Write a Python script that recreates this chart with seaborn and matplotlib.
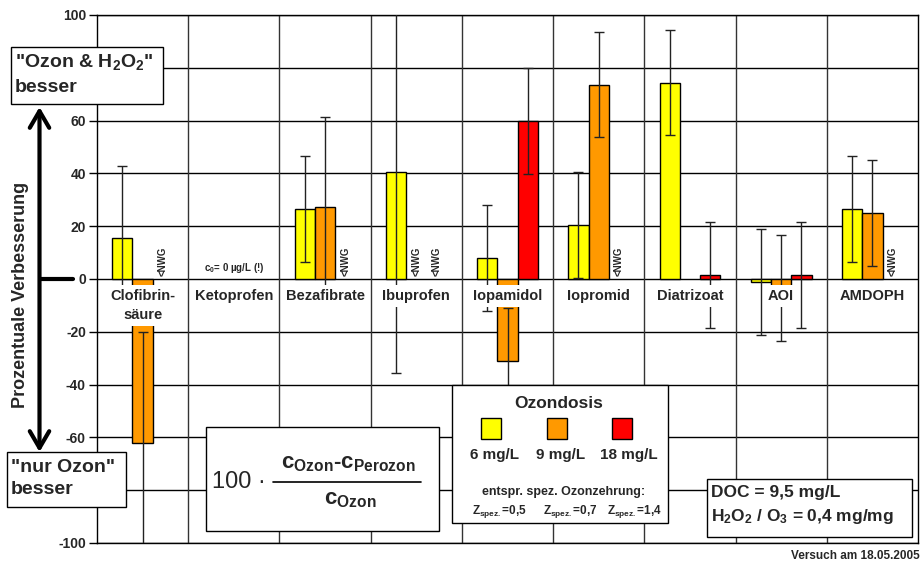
import numpy as np
import pandas as pd
import matplotlib
matplotlib.use("Agg")
import matplotlib.pyplot as plt
import seaborn as sns
from matplotlib.patches import Rectangle, FancyArrowPatch
from matplotlib.lines import Line2D

# ---------------- data ----------------
categories = ["Clofibrin-\nsäure", "Ketoprofen", "Bezafibrate", "Ibuprofen", "Iopamidol",
              "Iopromid", "Diatrizoat", "AOI", "AMDOPH"]
doses = ["6 mg/L", "9 mg/L", "18 mg/L"]
nan = np.nan
val_6 = [15.6, nan, 26.5, 40.4, 7.8, 20.4, 74.4, -1.1, 26.6]
err_6 = [27.2, nan, 20.1, 76.0, 20.1, 20.0, 20.0, 20.0, 20.0]
val_9 = [-62.0, nan, 27.3, nan, -31.0, 73.6, nan, -3.4, 25.0]
err_9 = [42.0, nan, 34.0, nan, 20.0, 20.0, nan, 20.0, 20.0]
val_18 = [nan, nan, nan, nan, 59.8, nan, 1.6, 1.6, nan]
err_18 = [nan, nan, nan, nan, 20.0, nan, 20.0, 20.0, nan]
# "<NWG" markers: (category index, dose index)
nwg = [(0, 2), (2, 2), (3, 1), (3, 2), (5, 2), (8, 2)]
yticks = [-100, -80, -60, -40, -20, 0, 20, 40, 60, 80, 100]
# tick labels at 80 / -80 are hidden behind the annotation boxes in the reference
yticklabels = ["-100", "", "-60", "-40", "-20", "0", "20", "40", "60", "", "100"]
colors = {"6 mg/L": "#FFFF00", "9 mg/L": "#FF9900", "18 mg/L": "#FF0000"}

rows = []
for d, vals, errs in zip(doses, [val_6, val_9, val_18], [err_6, err_9, err_18]):
    for c, v, e in zip(categories, vals, errs):
        rows.append({"cat": c, "dose": d, "val": v, "err": e})
df = pd.DataFrame(rows)

# ---------------- style ----------------
sns.set_theme(style="white")
plt.rcParams["font.family"] = ["Liberation Sans", "DejaVu Sans"]
plt.rcParams["mathtext.fontset"] = "custom"
plt.rcParams["mathtext.rm"] = "Liberation Sans"
plt.rcParams["mathtext.bf"] = "Liberation Sans:bold"
plt.rcParams["mathtext.it"] = "Liberation Sans:bold"
plt.rcParams["mathtext.default"] = "bf"

W, H = 924, 563
fig = plt.figure(figsize=(W / 100, H / 100), dpi=100)
fig.patch.set_facecolor("white")


def P(x, y):
    return (x / W, 1 - y / H)


ax = fig.add_axes([97 / W, 20 / H, (918 - 97) / W, (543 - 15) / H])
ax.set_facecolor("white")

group_w = 0.666
sns.barplot(data=df, x="cat", y="val", hue="dose", order=categories, hue_order=doses,
            palette=colors, saturation=1, width=group_w, gap=0, errorbar=None,
            edgecolor="black", linewidth=1.0, ax=ax, legend=False, zorder=3)

# error bars
bw = group_w / 3
offsets = [-bw, 0.0, bw]
for k, (vals, errs) in enumerate([(val_6, err_6), (val_9, err_9), (val_18, err_18)]):
    xs = np.arange(len(categories)) + offsets[k]
    v = np.array(vals, dtype=float)
    e = np.array(errs, dtype=float)
    m = ~np.isnan(v)
    ax.errorbar(xs[m], v[m], yerr=e[m], fmt="none", ecolor="#222222", elinewidth=1.0,
                capsize=3.5, capthick=1.0, zorder=4)

ax.set_xlim(-0.5, len(categories) - 0.5)
ax.set_ylim(-100, 100)
ax.set_yticks(yticks)
ax.set_yticklabels(yticklabels, fontsize=10, fontweight="bold")
ax.tick_params(axis="y", which="major", direction="out", length=6, width=1, color="black", pad=2, left=True)
ax.set_xticks([])
ax.set_xlabel("")
ax.set_ylabel("")

# gridlines
for t in yticks:
    ax.axhline(t, color="black", lw=1.0, zorder=1)
for i in range(len(categories) - 1):
    ax.axvline(i + 0.5, color="#333333", lw=1.0, zorder=1)
for s in ax.spines.values():
    s.set_color("black")
    s.set_linewidth(1.0)

# category labels
for i, c in enumerate(categories):
    ax.text(i, -3.8, c, ha="center", va="top", fontsize=10.5, fontweight="bold",
            linespacing=1.45, zorder=6,
            bbox=dict(facecolor="white", edgecolor="none", pad=2.6))

# <NWG labels
for ci, di in nwg:
    ax.text(ci + offsets[di], 1.2, "<NWG", rotation=90, ha="center", va="bottom",
            fontsize=7, fontweight="bold", zorder=6)

ax.text(1, 4.2, "c$_0$= 0 µg/L (!)", ha="center", va="center", fontsize=7,
        fontweight="bold", zorder=6)

# ---------------- figure annotations ----------------
def box(x0, y0, x1, y1, lw=1.0):
    (fx0, fy1) = P(x0, y0)
    (fx1, fy0) = P(x1, y1)
    fig.add_artist(Rectangle((fx0, fy0), fx1 - fx0, fy1 - fy0, transform=fig.transFigure,
                             facecolor="white", edgecolor="black", lw=lw, zorder=5))


# top box
box(11, 47, 163, 104)
fig.text(*P(15, 62), '"Ozon & H$_2$O$_2$"', ha="left", va="center", fontsize=14,
         fontweight="bold", zorder=6)
fig.text(*P(15, 88), "besser", ha="left", va="center", fontsize=14, fontweight="bold", zorder=6)

# bottom box
box(7, 452, 126, 507)
fig.text(*P(11, 467), '"nur Ozon"', ha="left", va="center", fontsize=14, fontweight="bold", zorder=6)
fig.text(*P(11, 490), "besser", ha="left", va="center", fontsize=14, fontweight="bold", zorder=6)

# arrow and connector
fig.add_artist(FancyArrowPatch(P(39.5, 107), P(39.5, 452), transform=fig.transFigure,
                               arrowstyle="<->,head_length=0.6,head_width=0.35",
                               mutation_scale=20, lw=3, color="black", shrinkA=0, shrinkB=0,
                               zorder=6))
fig.add_artist(Line2D([39.5 / W, 73 / W], [1 - 279 / H, 1 - 279 / H], transform=fig.transFigure,
                      color="black", lw=3, zorder=6))

fig.text(*P(21, 295), "Prozentuale Verbesserung", rotation=90, ha="center", va="center",
         fontsize=13, fontweight="bold")

# formula box
box(206, 427, 439, 531)
fig.text(*P(212, 482), "100 ·", ha="left", va="center", fontsize=17, zorder=6)
fig.text(*P(348, 463), "$c_{Ozon}$-$c_{Perozon}$", ha="center", va="center", fontsize=16,
         fontweight="bold", zorder=6)
fig.add_artist(Line2D([273 / W, 421 / W], [1 - 481.5 / H, 1 - 481.5 / H],
                      transform=fig.transFigure, color="black", lw=1.2, zorder=6))
fig.text(*P(350, 499), "$c_{Ozon}$", ha="center", va="center", fontsize=16,
         fontweight="bold", zorder=6)

# legend box
box(452, 385, 668, 523)
fig.text(*P(559, 403), "Ozondosis", ha="center", va="center", fontsize=12.5,
         fontweight="bold", zorder=6)
sq_x = [481, 547, 612]
lab_x = [494, 561, 629]
for d, sx, lx in zip(doses, sq_x, lab_x):
    fx0, fy1 = P(sx, 418)
    fx1, fy0 = P(sx + 20, 439)
    fig.add_artist(Rectangle((fx0, fy0), fx1 - fx0, fy1 - fy0, transform=fig.transFigure,
                             facecolor=colors[d], edgecolor="black", lw=1, zorder=6))
    fig.text(*P(lx, 455), d, ha="center", va="center", fontsize=11, fontweight="bold", zorder=6)
fig.text(*P(564, 492), "entspr. spez. Ozonzehrung:", ha="center", va="center", fontsize=9,
         fontweight="bold", zorder=6)
z_labels = ["Z$_{spez.}$=0,5", "Z$_{spez.}$=0,7", "Z$_{spez.}$=1,4"]
z_x = [499, 570, 634]
for zl, zx in zip(z_labels, z_x):
    fig.text(*P(zx, 512), zl, ha="center", va="center", fontsize=8.5, fontweight="bold", zorder=6)

# DOC box
box(707, 479, 912, 537)
fig.text(*P(711, 493), "DOC = 9,5 mg/L", ha="left", va="center", fontsize=12.5,
         fontweight="bold", zorder=6)
fig.text(*P(711, 516), "H$_2$O$_2$ / O$_3$ = 0,4 mg/mg", ha="left", va="center", fontsize=12.5,
         fontweight="bold", zorder=6)

fig.text(*P(920, 556), "Versuch am 18.05.2005", ha="right", va="center", fontsize=8.5,
         fontweight="bold")

fig.savefig("out.png", dpi=100, facecolor="white")
